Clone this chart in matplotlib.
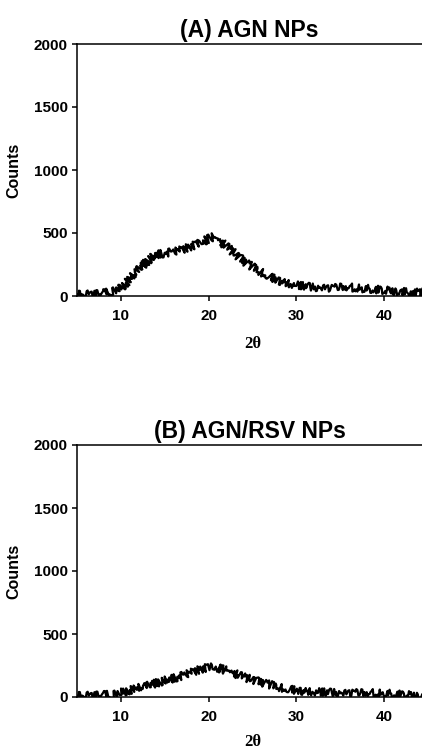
import matplotlib
matplotlib.use("Agg")
import matplotlib.pyplot as plt

plt.rcParams['font.family'] = ['Liberation Sans', 'DejaVu Sans']
plt.rcParams['font.weight'] = 'bold'

# ---- data (2theta in degrees, counts) ----
two_theta = [5, 6, 7, 8, 9, 10, 11, 12, 13, 14, 15, 16, 17, 18, 19, 20, 20.5,
             21, 22, 23, 24, 25, 26, 27, 28, 29, 30, 32, 34, 35.5, 38, 40, 42, 44.3]

counts_agn = [10, 12, 15, 20, 40, 65, 130, 210, 275, 330, 340, 350, 370, 395, 420, 455, 468,
              450, 395, 335, 275, 230, 190, 150, 120, 100, 85, 68, 62, 72, 58, 45, 35, 25]

two_theta_b = [5, 6, 7, 8, 9, 10, 11, 12, 13, 14, 15, 16, 17, 18, 19, 20, 21,
               22, 23, 24, 25, 26, 27, 28, 29, 30, 32, 35, 38, 40, 42, 44.3]

counts_rsv = [8, 10, 12, 15, 22, 37, 53, 71, 90, 110, 130, 150, 168, 195, 220, 237, 232,
              210, 185, 158, 137, 116, 97, 79, 63, 50, 40, 32, 32, 30, 18, 10]

titles = ["(A) AGN NPs", "(B) AGN/RSV NPs"]
y_ticks = [0, 500, 1000, 1500, 2000]
x_ticks = [10, 20, 30, 40]

fig = plt.figure(figsize=(4.22, 7.49), dpi=100)

ax_a = fig.add_axes([77 / 422, 1 - 296 / 749, 1 - 77 / 422, 252 / 749])
ax_b = fig.add_axes([77 / 422, 1 - 697 / 749, 1 - 77 / 422, 252 / 749])

for ax, x, y, title in ((ax_a, two_theta, counts_agn, titles[0]),
                        (ax_b, two_theta_b, counts_rsv, titles[1])):
    line, = ax.plot(x, y, color="black", linewidth=1.6)
    # jagged look of the raw diffractogram
    line.set_sketch_params(scale=4, length=1.0, randomness=3)

    ax.set_xlim(5, 44.3)
    ax.set_ylim(0, 2000)
    ax.set_xticks(x_ticks)
    ax.set_yticks(y_ticks)
    ax.spines['right'].set_visible(False)
    for s in ('left', 'bottom', 'top'):
        ax.spines[s].set_linewidth(1.1)
    ax.tick_params(direction='out', length=3.5, width=1.1, labelsize=11)
    ax.tick_params(axis='y', pad=3)
    ax.tick_params(axis='x', pad=6)
    for lab in ax.get_xticklabels() + ax.get_yticklabels():
        lab.set_fontweight('bold')

    ax.set_title(title, fontsize=16.5, fontweight='bold', pad=5)
    ax.set_ylabel("Counts", fontsize=11.5, fontweight='bold', labelpad=9)
    ax.set_xlabel("2\u03b8", fontsize=12, fontweight='bold', family=['Liberation Serif', 'DejaVu Serif'])
    ax.xaxis.set_label_coords(0.51, -0.16 if ax is ax_a else -0.147)

fig.savefig("out.png", dpi=100)
